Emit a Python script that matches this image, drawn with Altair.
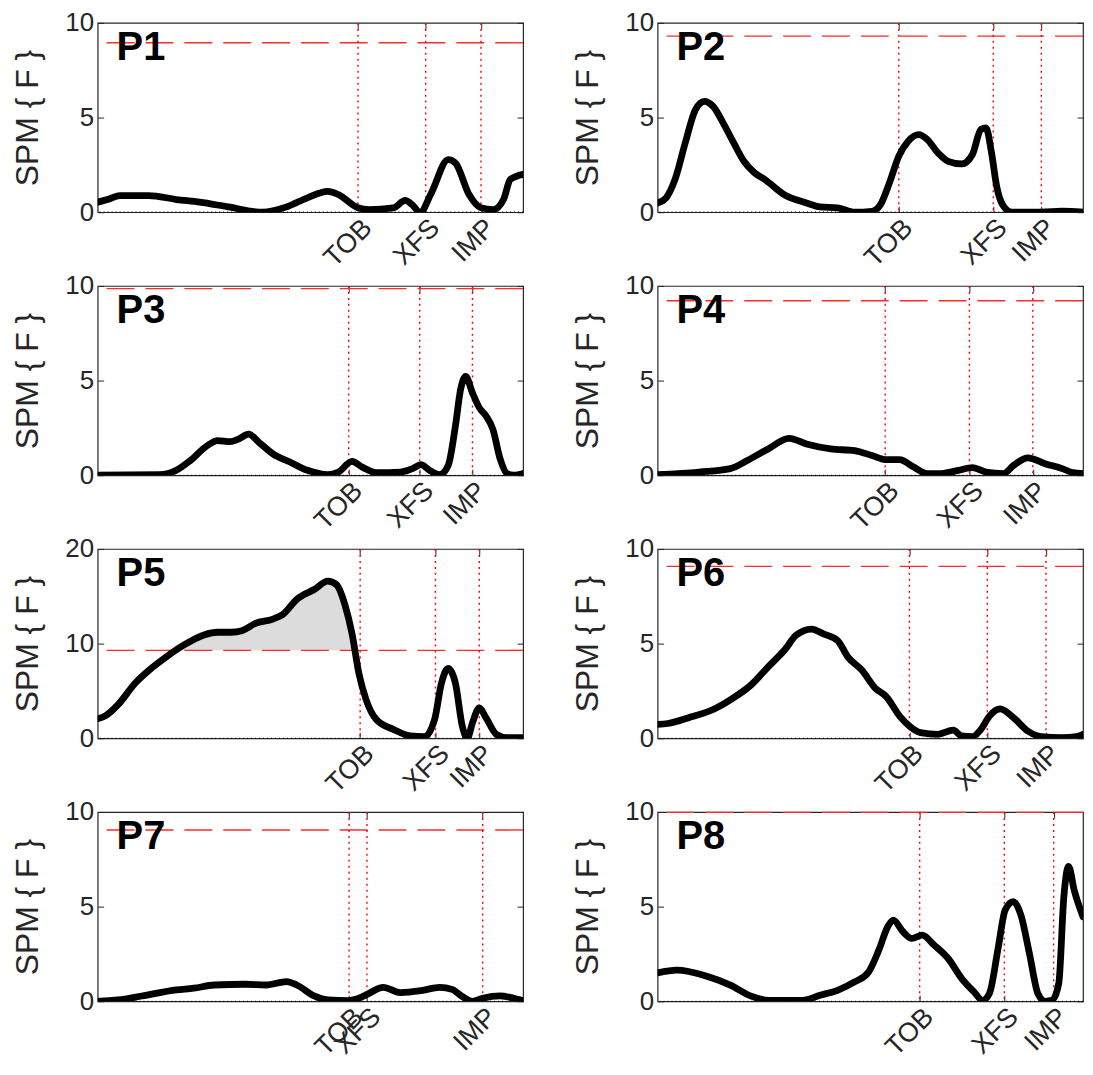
import altair as alt
import pandas as pd

EVENT_NAMES = ["TOB", "XFS", "IMP"]

# ---- P1 ----
P1_T = [0, 2.3, 5.2, 12, 18.5, 24, 30.7, 38.8, 44.4, 49.3, 54.1, 56.6, 61.2, 63.8, 69.5, 72.3, 73.9, 75.8, 78.4, 82.4, 84.1, 87.3, 90.1, 93, 95.4, 97, 100]
P1_V = [0.53, 0.67, 0.88, 0.88, 0.67, 0.53, 0.28, 0.0, 0.28, 0.76, 1.1, 0.93, 0.23, 0.14, 0.23, 0.62, 0.4, 0.0, 1.0, 2.78, 2.6, 0.93, 0.23, 0.14, 0.67, 1.73, 2.0]
P1_THR = 8.95
P1_EV = [61.2, 77.1, 90.1]

# ---- P2 ----
P2_T = [0, 2, 4.1, 6.5, 8.9, 11, 13, 15.4, 17.9, 20.3, 22.8, 25.2, 30.1, 35, 38.2, 42.3, 46.3, 50.4, 52.4, 54.5, 56.7, 58.9, 61.4, 63.4, 65.9, 68.3, 71.5, 74, 76, 77.2, 78.5, 79.7, 81.3, 83.3, 90.2, 95.1, 100]
P2_V = [0.49, 0.76, 1.73, 3.66, 5.42, 5.86, 5.6, 4.72, 3.66, 2.69, 2.08, 1.73, 0.88, 0.49, 0.28, 0.23, 0.0, 0.05, 0.4, 1.55, 2.96, 3.75, 4.1, 3.84, 3.13, 2.69, 2.55, 3.05, 4.37, 4.45, 3.13, 1.37, 0.32, 0.0, 0.0, 0.05, 0.0]
P2_THR = 9.30
P2_EV = [56.7, 78.9, 90.2]

# ---- P3 ----
P3_T = [0, 14.5, 18.5, 21.8, 25.8, 28.2, 31.1, 33.1, 35.5, 37.9, 41.2, 45.2, 49.3, 54.1, 56.6, 59.8, 62.2, 65.5, 71.2, 74, 76, 78, 80.4, 82.4, 84.1, 85.3, 86.5, 88.1, 89.7, 91.3, 92.9, 94.6, 96.2, 97.8, 100]
P3_V = [0.0, 0.03, 0.26, 0.78, 1.57, 1.83, 1.77, 1.91, 2.17, 1.74, 1.13, 0.7, 0.26, 0.03, 0.17, 0.73, 0.43, 0.14, 0.17, 0.35, 0.56, 0.26, 0.03, 0.52, 2.61, 4.52, 5.22, 4.35, 3.57, 3.13, 2.43, 0.87, 0.09, 0.0, 0.09]
P3_THR = 9.86
P3_EV = [59.0, 75.7, 88.1]

# ---- P4 ----
P4_T = [0, 9.8, 17.1, 21.1, 26, 30.9, 35, 40.7, 46.3, 50.4, 53.5, 56.9, 60.2, 63.4, 66.7, 70.7, 74, 77.2, 81.3, 83.7, 87, 91.1, 95.1, 97.6, 100]
P4_V = [0.03, 0.17, 0.35, 0.78, 1.39, 1.95, 1.65, 1.39, 1.3, 1.04, 0.83, 0.83, 0.43, 0.09, 0.09, 0.26, 0.4, 0.17, 0.09, 0.52, 0.92, 0.61, 0.35, 0.14, 0.09]
P4_THR = 9.22
P4_EV = [53.5, 73.3, 88.2]

# ---- P5 ----
P5_T = [0, 1.9, 4.8, 8.8, 12.1, 16.1, 20.1, 25, 28.2, 31.4, 33.9, 37.1, 41.2, 43.6, 46.8, 50.9, 54.1, 56.1, 58.2, 59.8, 61.4, 63.1, 65.5, 69.5, 73.5, 76.8, 79.2, 80.8, 82.4, 84.1, 85.7, 86.9, 88.1, 89.7, 91.3, 93.7, 96.2, 100]
P5_V = [2.05, 2.4, 3.55, 5.81, 7.2, 8.59, 9.81, 10.92, 11.2, 11.2, 11.37, 12.14, 12.59, 13.11, 14.68, 15.72, 16.59, 16.24, 13.98, 11.03, 6.85, 4.07, 1.98, 0.94, 0.24, 0.17, 1.98, 5.81, 7.37, 5.81, 1.29, 0.0, 1.63, 3.2, 2.16, 0.42, 0.07, 0.07]
P5_THR = 9.29
P5_EV = [61.7, 79.4, 89.7]

# ---- P6 ----
P6_T = [0, 2.4, 7.3, 13.8, 17.1, 22, 26, 30.1, 32.5, 36.2, 39, 42.3, 44.7, 48, 51.2, 53.7, 56.9, 59.2, 61.8, 65.9, 69.5, 71.5, 74, 76, 78, 80.5, 83.7, 87, 90.2, 95.1, 98.4, 100]
P6_V = [0.73, 0.78, 1.08, 1.6, 2.03, 2.82, 3.77, 4.73, 5.43, 5.77, 5.51, 5.17, 4.3, 3.6, 2.64, 2.21, 1.17, 0.64, 0.3, 0.21, 0.43, 0.12, 0.09, 0.47, 1.17, 1.55, 1.08, 0.38, 0.09, 0.03, 0.09, 0.21]
P6_THR = 9.08
P6_EV = [59.2, 77.5, 91.3]

# ---- P7 ----
P7_T = [0, 4.8, 10.4, 18.5, 22.6, 27.4, 34.7, 39.6, 44.4, 46.8, 50.9, 54.1, 59, 61.4, 63.8, 67.1, 71.1, 76, 80.4, 83.3, 85.7, 88.1, 90.5, 94.6, 97.8, 100]
P7_V = [0.0, 0.07, 0.28, 0.6, 0.69, 0.86, 0.9, 0.86, 1.04, 0.86, 0.28, 0.07, 0.04, 0.16, 0.42, 0.74, 0.46, 0.56, 0.74, 0.63, 0.25, 0.0, 0.16, 0.28, 0.16, 0.04]
P7_THR = 9.05
P7_EV = [59.1, 63.3, 90.5]

# ---- P8 ----
P8_T = [0, 4.5, 11.4, 17.1, 22, 26, 34.1, 38.2, 42.3, 46.3, 49.6, 52, 54.1, 55.4, 57.7, 59.8, 62.2, 65, 68.3, 71.5, 74.4, 76.4, 78, 80.1, 81.7, 83.6, 85.4, 87.4, 89.4, 91.1, 92.7, 94.3, 95.5, 96.6, 98, 100]
P8_V = [1.5, 1.64, 1.33, 0.85, 0.27, 0.05, 0.05, 0.32, 0.58, 1.02, 1.55, 2.7, 3.94, 4.29, 3.67, 3.32, 3.5, 2.97, 2.26, 1.2, 0.49, 0.05, 0.41, 2.88, 4.82, 5.27, 4.56, 2.53, 0.41, 0.0, 0.05, 0.94, 5.53, 7.12, 5.8, 4.47]
P8_THR = 9.98
P8_EV = [61.6, 81.5, 93.1]

PANELS = [
    ("P1", P1_T, P1_V, P1_THR, P1_EV, 10, [0, 5, 10], False),
    ("P2", P2_T, P2_V, P2_THR, P2_EV, 10, [0, 5, 10], False),
    ("P3", P3_T, P3_V, P3_THR, P3_EV, 10, [0, 5, 10], False),
    ("P4", P4_T, P4_V, P4_THR, P4_EV, 10, [0, 5, 10], False),
    ("P5", P5_T, P5_V, P5_THR, P5_EV, 20, [0, 10, 20], True),
    ("P6", P6_T, P6_V, P6_THR, P6_EV, 10, [0, 5, 10], False),
    ("P7", P7_T, P7_V, P7_THR, P7_EV, 10, [0, 5, 10], False),
    ("P8", P8_T, P8_V, P8_THR, P8_EV, 10, [0, 5, 10], False),
]

W, H = 427, 190
FONT = "Liberation Sans"
AXC = "#262626"


def make_panel(name, ts, vs, thr, evs, ymax, yticks, shade):
    df = pd.DataFrame({"t": ts, "v": vs, "thr": [thr] * len(ts)})
    xs = alt.Scale(domain=[0, 100], nice=False, zero=False)
    ys = alt.Scale(domain=[0, ymax], nice=False)
    label_expr = " : ".join(
        f"abs(datum.value - {e}) < 0.001 ? '{n}'" for e, n in zip(evs, EVENT_NAMES)
    ) + " : ''"

    layers = []
    if shade:
        area = (
            alt.Chart(df)
            .transform_calculate(hi="max(datum.v, datum.thr)")
            .mark_area(color="#dcdcdc", opacity=1, interpolate="monotone")
            .encode(
                x=alt.X("t:Q", scale=xs, axis=None),
                y=alt.Y("hi:Q", scale=ys, axis=None),
                y2="thr:Q",
            )
        )
        layers.append(area)

    thr_rule = (
        alt.Chart(pd.DataFrame({"thr": [thr]}))
        .mark_rule(color="#ff2a2a", strokeDash=[28, 11], strokeWidth=1.4)
        .encode(
            y=alt.Y(
                "thr:Q",
                scale=ys,
                axis=alt.Axis(
                    orient="right", values=yticks, labels=False, ticks=True,
                    tickSize=6, offset=-6, domain=False, grid=False, title=None,
                    tickColor=AXC,
                ),
            )
        )
    )
    ev_rule = (
        alt.Chart(pd.DataFrame({"e": evs}))
        .mark_rule(color="#ff0000", strokeDash=[2, 4], strokeWidth=1.4)
        .encode(
            x=alt.X(
                "e:Q",
                scale=xs,
                axis=alt.Axis(
                    orient="top", values=evs, labels=False, ticks=True,
                    tickSize=6, offset=-6, domain=False, grid=False, title=None,
                    tickColor=AXC,
                ),
            )
        )
    )
    zero = (
        alt.Chart(pd.DataFrame({"z": [0]}))
        .mark_rule(color="#000000", strokeDash=[1, 3], strokeWidth=1.2)
        .encode(y=alt.Y("z:Q", scale=ys, axis=None))
    )
    line = (
        alt.Chart(df)
        .mark_line(color="black", strokeWidth=6.8, interpolate="monotone",
                   strokeCap="round", strokeJoin="round", clip=True)
        .encode(
            x=alt.X(
                "t:Q",
                scale=xs,
                axis=alt.Axis(
                    orient="bottom", values=evs, labelExpr=label_expr,
                    labelAngle=-45, labelAlign="right", labelBaseline="top",
                    labelPadding=2, labelOverlap=False, labelFlush=False,
                    labelBound=False, labelFontSize=27, tickSize=6, offset=-6,
                    domain=False, grid=False, title=None, tickColor=AXC,
                ),
            ),
            y=alt.Y(
                "v:Q",
                scale=ys,
                axis=alt.Axis(
                    orient="left", values=yticks, tickSize=6, offset=-6,
                    labelPadding=4, domain=False, grid=False,
                    title="SPM { F }", titlePadding=20, tickColor=AXC,
                ),
            ),
        )
    )
    label = (
        alt.Chart(pd.DataFrame({"n": [name]}))
        .mark_text(fontSize=40, fontWeight="bold", align="left",
                   baseline="alphabetic", color="black", font=FONT)
        .encode(x=alt.value(19), y=alt.value(37), text="n:N")
    )
    layers += [thr_rule, ev_rule, zero, line, label]
    return (
        alt.layer(*layers)
        .resolve_axis(x="independent", y="independent")
        .properties(width=W, height=H)
    )


charts = [make_panel(*p) for p in PANELS]

chart = (
    alt.concat(*charts, columns=2, spacing={"row": 74, "column": 135}, bounds="flush")
    .properties(padding={"left": 3, "top": -1, "right": 0, "bottom": 3})
    .configure(font=FONT)
    .configure_view(stroke=AXC, strokeWidth=1.2)
    .configure_axis(
        labelFont=FONT, labelFontSize=26, labelColor=AXC,
        titleFont=FONT, titleFontSize=32, titleFontWeight="normal", titleColor=AXC,
    )
)

chart.save("out.html", embed_options={"renderer": "svg", "actions": False})
